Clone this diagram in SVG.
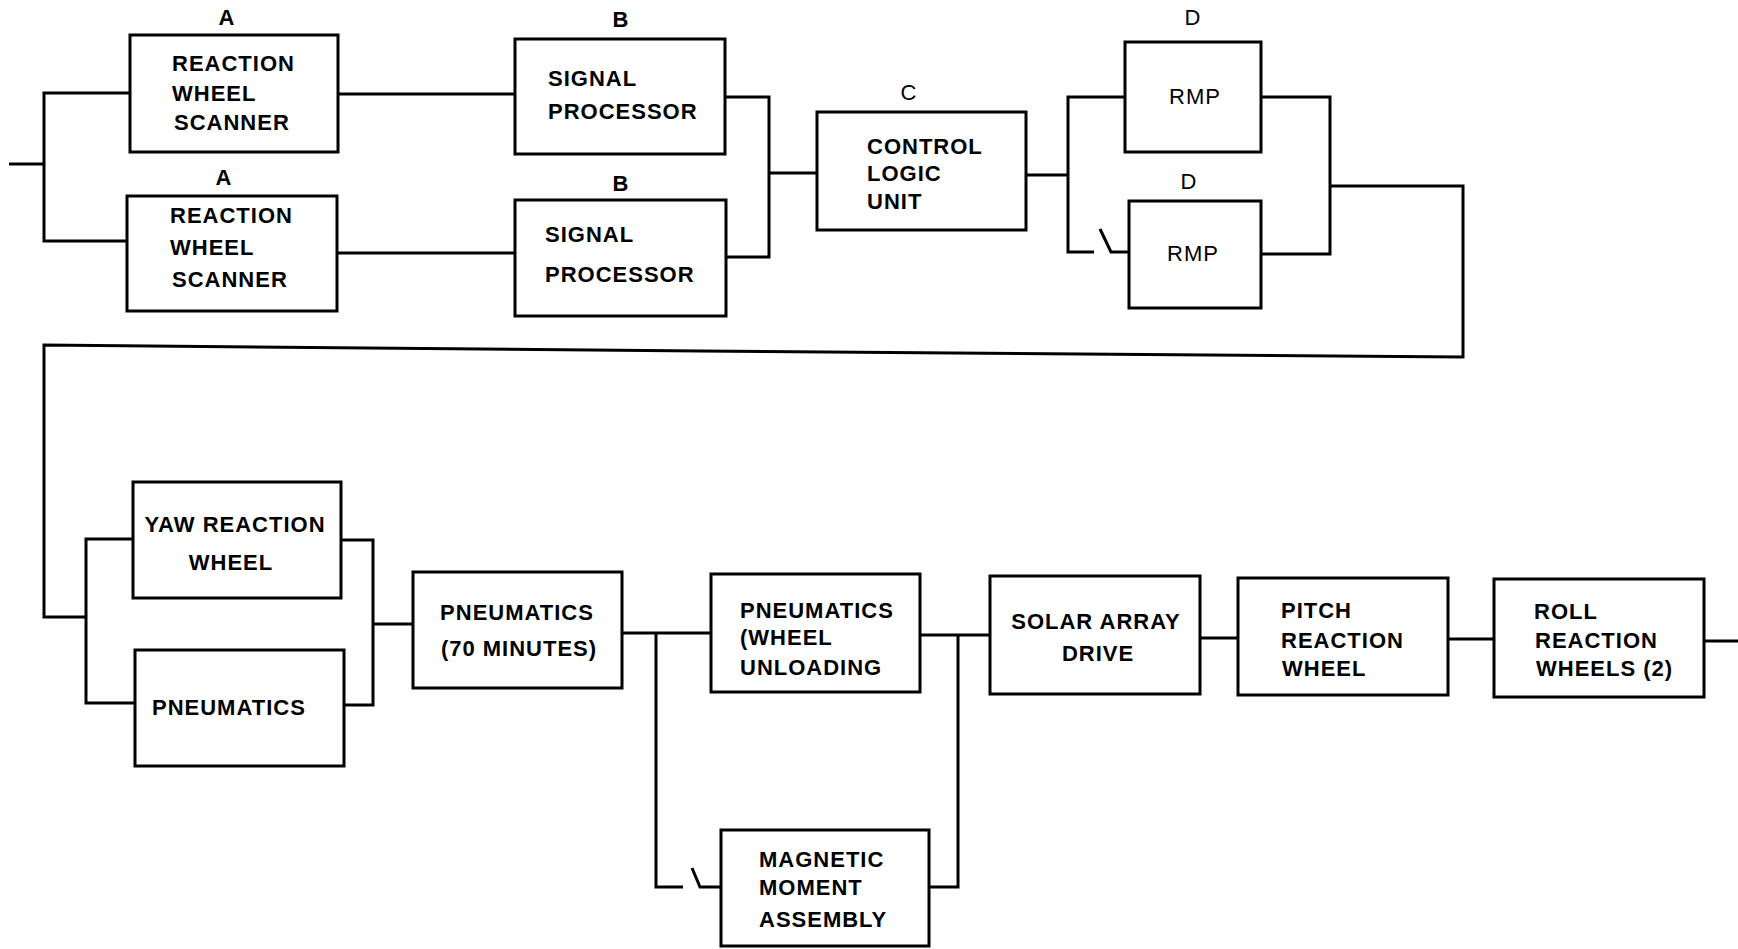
<svg xmlns="http://www.w3.org/2000/svg" width="1738" height="949" viewBox="0 0 1738 949">
  <style>
    .box { fill: none; stroke: #000; stroke-width: 3; }
    .wire { fill: none; stroke: #000; stroke-width: 3; stroke-linejoin: miter; }
    text { font-family: "Liberation Sans", Arial, sans-serif; font-size: 22px; font-weight: bold; letter-spacing: 1px; fill: #000; }
    .c { text-anchor: middle; }
    .reg { font-weight: normal; }
  </style>
  <rect x="0" y="0" width="1738" height="949" fill="#fff"/>

  <!-- wiring between blocks -->
  <g id="connectors">
    <!-- input and scanner pair -->
    <polyline class="wire" points="9,164 44,164"/>
    <polyline class="wire" points="130,93 44,93 44,241 127,241"/>
    <polyline class="wire" points="338,94 515,94"/>
    <polyline class="wire" points="337,253 515,253"/>
    <!-- signal processors into control logic -->
    <polyline class="wire" points="725,97 769,97 769,257 726,257"/>
    <polyline class="wire" points="769,173 817,173"/>
    <!-- control logic to RMP pair -->
    <polyline class="wire" points="1026,175 1068,175"/>
    <polyline class="wire" points="1125,97 1068,97 1068,252 1094,252"/>
    <polyline class="wire" points="1100,229 1111,252 1129,252"/>
    <polyline class="wire" points="1261,97 1330,97 1330,254 1261,254"/>
    <!-- return run down to second row -->
    <polyline class="wire" points="1330,186 1463,186 1463,357 700,351 44,345 44,617 86,617"/>
    <!-- yaw wheel / pneumatics pair -->
    <polyline class="wire" points="133,539 86,539 86,703 135,703"/>
    <polyline class="wire" points="341,540 373,540 373,705 344,705"/>
    <polyline class="wire" points="373,624 413,624"/>
    <!-- wheel unloading / magnetic moment pair -->
    <polyline class="wire" points="622,633 711,633"/>
    <polyline class="wire" points="656,633 656,887 683,887"/>
    <polyline class="wire" points="692,868 700,887 721,887"/>
    <polyline class="wire" points="920,635 990,635"/>
    <polyline class="wire" points="929,887 958,887 958,635"/>
    <!-- series chain to output -->
    <polyline class="wire" points="1200,638 1238,638"/>
    <polyline class="wire" points="1448,639 1494,639"/>
    <polyline class="wire" points="1704,641 1738,641"/>
  </g>

  <g id="scanner-1">
    <text class="c" x="227" y="25">A</text>
    <rect class="box" x="130" y="35" width="208" height="117"/>
    <text x="172" y="71">REACTION</text>
    <text x="172" y="101">WHEEL</text>
    <text x="174" y="130">SCANNER</text>
  </g>
  <g id="scanner-2">
    <text class="c" x="224" y="185">A</text>
    <rect class="box" x="127" y="196" width="210" height="115"/>
    <text x="170" y="223">REACTION</text>
    <text x="170" y="255">WHEEL</text>
    <text x="172" y="287">SCANNER</text>
  </g>
  <g id="processor-1">
    <text class="c" x="621" y="27">B</text>
    <rect class="box" x="515" y="39" width="210" height="115"/>
    <text x="548" y="86">SIGNAL</text>
    <text x="548" y="119">PROCESSOR</text>
  </g>
  <g id="processor-2">
    <text class="c" x="621" y="191">B</text>
    <rect class="box" x="515" y="200" width="211" height="116"/>
    <text x="545" y="242">SIGNAL</text>
    <text x="545" y="282">PROCESSOR</text>
  </g>
  <g id="control-logic">
    <text class="c reg" x="909" y="100">C</text>
    <rect class="box" x="817" y="112" width="209" height="118"/>
    <text x="867" y="154">CONTROL</text>
    <text x="867" y="181">LOGIC</text>
    <text x="867" y="209">UNIT</text>
  </g>
  <g id="rmp-1">
    <text class="c reg" x="1193" y="25">D</text>
    <rect class="box" x="1125" y="42" width="136" height="110"/>
    <text class="c reg" x="1195" y="104">RMP</text>
  </g>
  <g id="rmp-2">
    <text class="c reg" x="1189" y="189">D</text>
    <rect class="box" x="1129" y="201" width="132" height="107"/>
    <text class="c reg" x="1193" y="261">RMP</text>
  </g>

  <g id="yaw-wheel">
    <rect class="box" x="133" y="482" width="208" height="116"/>
    <text class="c" x="235" y="532">YAW REACTION</text>
    <text class="c" x="231" y="570">WHEEL</text>
  </g>
  <g id="pneumatics">
    <rect class="box" x="135" y="650" width="209" height="116"/>
    <text x="152" y="715">PNEUMATICS</text>
  </g>
  <g id="pneumatics-70">
    <rect class="box" x="413" y="572" width="209" height="116"/>
    <text class="c" x="517" y="620">PNEUMATICS</text>
    <text class="c" x="519" y="656">(70 MINUTES)</text>
  </g>
  <g id="pneumatics-unloading">
    <rect class="box" x="711" y="574" width="209" height="118"/>
    <text x="740" y="618">PNEUMATICS</text>
    <text x="740" y="645">(WHEEL</text>
    <text x="740" y="675">UNLOADING</text>
  </g>
  <g id="magnetic-moment">
    <rect class="box" x="721" y="830" width="208" height="116"/>
    <text x="759" y="867">MAGNETIC</text>
    <text x="759" y="895">MOMENT</text>
    <text x="759" y="927">ASSEMBLY</text>
  </g>
  <g id="solar-array">
    <rect class="box" x="990" y="576" width="210" height="118"/>
    <text class="c" x="1096" y="629">SOLAR  ARRAY</text>
    <text class="c" x="1098" y="661">DRIVE</text>
  </g>
  <g id="pitch-wheel">
    <rect class="box" x="1238" y="578" width="210" height="117"/>
    <text x="1281" y="618">PITCH</text>
    <text x="1281" y="648">REACTION</text>
    <text x="1282" y="676">WHEEL</text>
  </g>
  <g id="roll-wheels">
    <rect class="box" x="1494" y="579" width="210" height="118"/>
    <text x="1534" y="619">ROLL</text>
    <text x="1535" y="648">REACTION</text>
    <text x="1536" y="676">WHEELS (2)</text>
  </g>
</svg>
